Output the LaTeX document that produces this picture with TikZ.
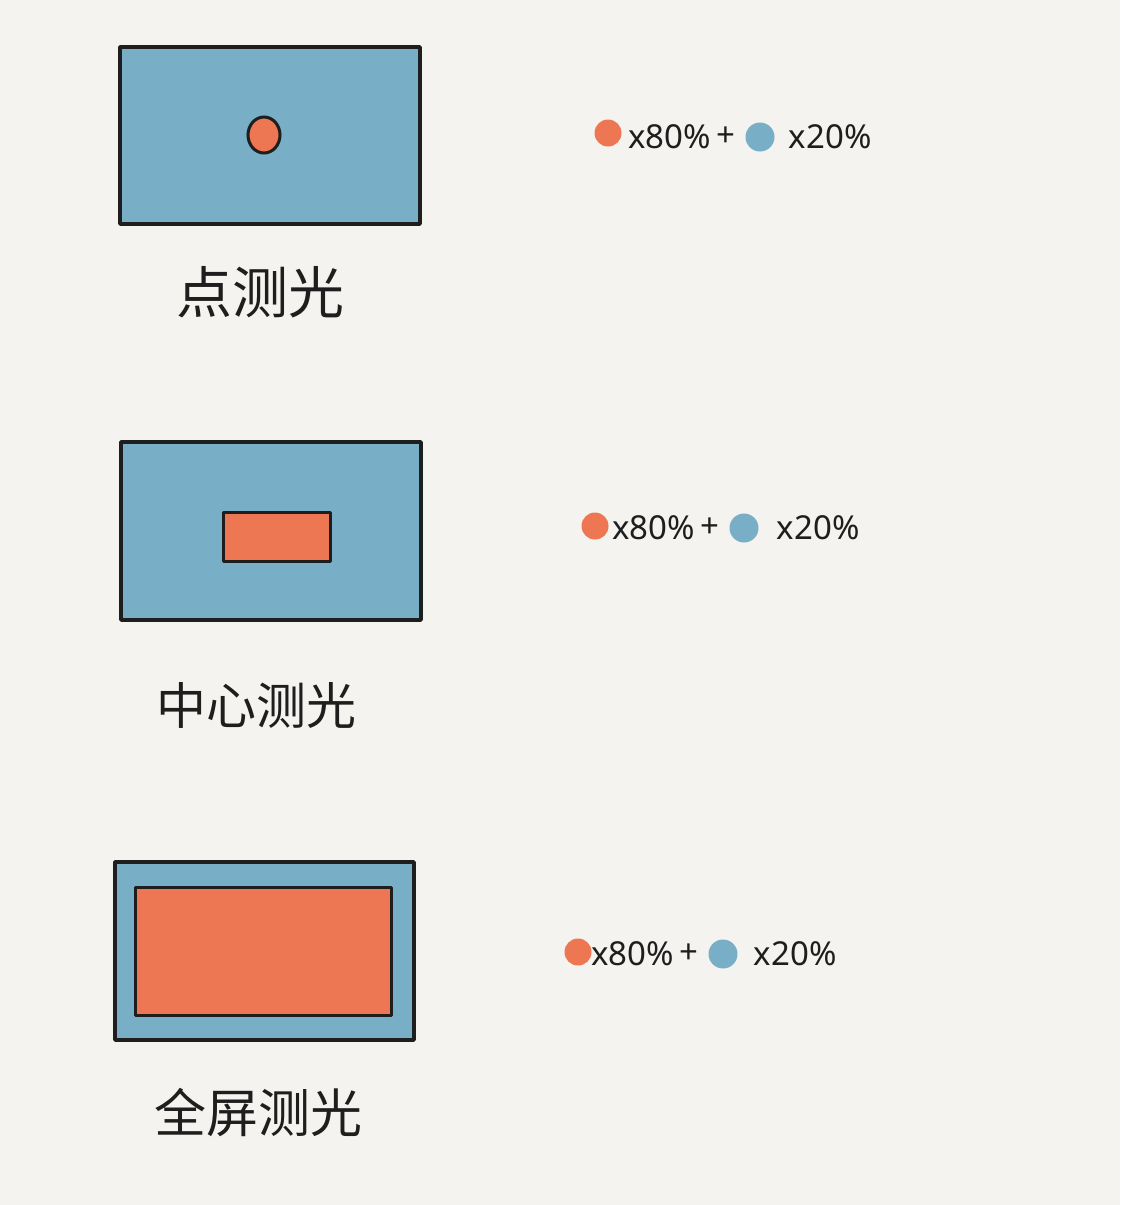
\documentclass[tikz,border=0pt]{standalone}
\usepackage{fontspec}
\usetikzlibrary{shapes.geometric}
\setmainfont{Noto Sans}
\newfontfamily\cjk{Noto Sans CJK SC}
\definecolor{bgc}{HTML}{F5F3EF}
\definecolor{skyb}{HTML}{78AFC6}
\definecolor{orng}{HTML}{EE7753}
\definecolor{inkc}{HTML}{1E1E1E}
\begin{document}
\begin{tikzpicture}[x=1pt,y=-1pt,
  frame/.style={draw=inkc,line width=3.6pt,fill=skyb,line join=round},
  inner/.style={draw=inkc,line width=3pt,fill=orng,line join=round},
  caption/.style={text=inkc,font=\cjk\fontsize{56}{56}\selectfont,inner sep=0pt},
  formula/.style={text=inkc,font=\fontsize{33}{33}\selectfont,inner sep=0pt,anchor=west},
  odot/.style={circle,fill=orng,minimum size=27pt,inner sep=0pt},
  bdot/.style={circle,fill=skyb,minimum size=29pt,inner sep=0pt,anchor=west}]
\fill[bgc] (0,0) rectangle (1120,1205);
\useasboundingbox (0,0) rectangle (1120,1205);
% --- row 1: spot metering
\draw[frame] (120,47) rectangle (420,224);
\node[ellipse,draw=inkc,line width=3pt,fill=orng,minimum width=32pt,minimum height=36pt,inner sep=0pt] (spot) at (264,135) {};
\node[caption] (cap1) at (260,292) {点测光};
\node[odot] (o1) at (608,133) {};
\node[formula] (f1a) at (628,137) {x80\%};
\node[formula] (p1) at ([xshift=5pt]f1a.east) {+};
\node[bdot] (b1) at ([xshift=10pt]p1.east) {};
\node[formula] (f1b) at ([xshift=14pt]b1.east) {x20\%};
% --- row 2: center-weighted metering
\draw[frame] (121,442) rectangle (421,620);
\draw[inner] (223,512) rectangle (330,561);
\node[caption,font=\cjk\fontsize{50}{50}\selectfont] (cap2) at (256,705) {中心测光};
\node[odot] (o2) at (595,526) {};
\node[formula] (f2a) at (612,528) {x80\%};
\node[formula] (p2) at ([xshift=5pt]f2a.east) {+};
\node[bdot] (b2) at ([xshift=10pt]p2.east) {};
\node[formula] (f2b) at ([xshift=18pt]b2.east) {x20\%};
% --- row 3: full-frame metering
\draw[frame] (115,862) rectangle (414,1040);
\draw[inner] (135,887) rectangle (391,1015);
\node[caption,font=\cjk\fontsize{52}{52}\selectfont] (cap3) at (258,1112) {全屏测光};
\node[odot] (o3) at (578,952) {};
\node[formula] (f3a) at (591,954) {x80\%};
\node[formula] (p3) at ([xshift=5pt]f3a.east) {+};
\node[bdot] (b3) at ([xshift=10pt]p3.east) {};
\node[formula] (f3b) at ([xshift=16pt]b3.east) {x20\%};
\end{tikzpicture}
\end{document}
